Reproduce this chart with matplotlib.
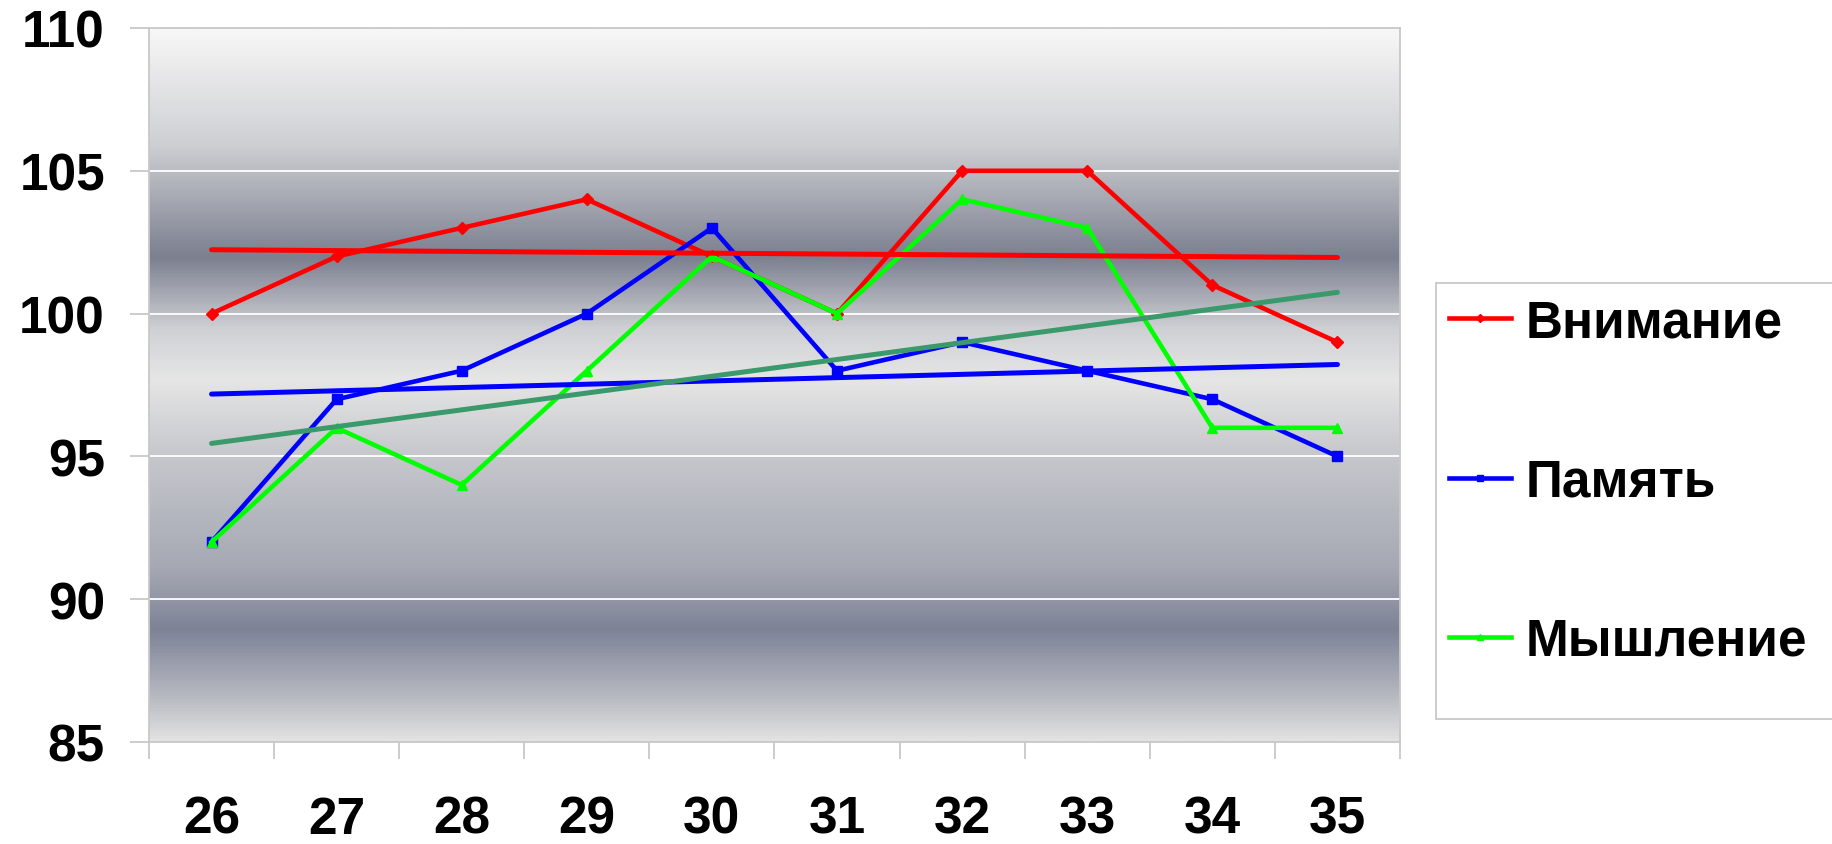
import numpy as np
import matplotlib
matplotlib.use('Agg')
import matplotlib.pyplot as plt
from matplotlib.colors import LinearSegmentedColormap
from matplotlib.patches import Rectangle

plt.rcParams['font.family'] = ['Liberation Sans', 'DejaVu Sans']
plt.rcParams['font.weight'] = 'bold'

# data
ages = ['26', '27', '28', '29', '30', '31', '32', '33', '34', '35']
vnimanie = [100, 102, 103, 104, 102, 100, 105, 105, 101, 99]
pamyat = [92, 97, 98, 100, 103, 98, 99, 98, 97, 95]
myshlenie = [92, 96, 94, 98, 102, 100, 104, 103, 96, 96]
series_names = ['Внимание', 'Память', 'Мышление']
y_ticks = [85, 90, 95, 100, 105, 110]

W, H = 1833, 845
fig = plt.figure(figsize=(W / 100, H / 100), dpi=100)
ax = fig.add_axes([149 / W, 1 - 743 / H, (1400 - 149) / W, (743 - 29) / H])

x = np.arange(len(ages))
ax.set_xlim(-0.5, len(ages) - 0.5)
ax.set_ylim(85, 110)

# background gradient (value -> colour)
stops = [(85, '#e2e2e2'), (86.5, '#b8bac2'), (88.9, '#7d8296'), (91, '#a5a8b3'),
         (95, '#c6c7cc'), (97.7, '#e6e6e6'), (99.5, '#cfd0d4'), (102.0, '#7b7f8f'),
         (106, '#cfd0d4'), (110, '#f7f7f7')]
cmap = LinearSegmentedColormap.from_list(
    'bg', [((v - 85) / 25, c) for v, c in stops])
grad = np.linspace(0, 1, 600).reshape(-1, 1)
ax.imshow(grad, cmap=cmap, origin='lower', aspect='auto',
          extent=[-0.5, len(ages) - 0.5, 85, 110], zorder=0, interpolation='bilinear')

for yv in y_ticks[1:-1]:
    ax.axhline(yv, color='white', lw=1.3, zorder=1)

colors = ['#ff0000', '#0000ff', '#00ff00']
trend_colors = ['#ff0000', '#0000ff', '#3a9a6c']
markers = ['D', 's', '^']
msizes = [6, 6.5, 7]
handles = []
for vals, c, m, ms, name in zip([vnimanie, pamyat, myshlenie], colors,
                                markers, msizes, series_names):
    h, = ax.plot(x, vals, color=c, lw=3.3, marker=m, markersize=ms, zorder=3, label=name)
    handles.append(h)
# linear trend lines
for vals, tc in zip([vnimanie, pamyat, myshlenie], trend_colors):
    k, b = np.polyfit(x, vals, 1)
    ax.plot(x, k * x + b, color=tc, lw=3.6, zorder=4, solid_capstyle='round')

# axes styling
for s in ax.spines.values():
    s.set_color('#c8c8c8')
    s.set_linewidth(1.3)
ax.set_yticks(y_ticks)
ax.tick_params(axis='y', length=13.7, width=1.3, color='#c8c8c8', pad=18, labelsize=37)
ax.set_xticks(np.arange(-0.5, len(ages)), [''] * (len(ages) + 1))
ax.set_xticks(x, ages, minor=True)
ax.tick_params(axis='x', which='major', length=12.5, width=1.3, color='#c8c8c8')
ax.tick_params(axis='x', which='minor', length=0, pad=38, labelsize=37)
for t in ax.get_yticklabels() + ax.get_xticklabels(minor=True):
    t.set_fontweight('bold')

# legend box
fig.patches.append(Rectangle((1436 / W, 1 - 720 / H), (W - 1436 + 5) / W, (720 - 284) / H,
                             transform=fig.transFigure, facecolor='white',
                             edgecolor='#c8c8c8', lw=1.3, zorder=0))
leg = fig.legend(handles=handles, loc='upper left', bbox_to_anchor=(1449 / W, 1 - 299 / H),
                 frameon=False, fontsize=37, handlelength=1.2, handletextpad=0.3,
                 labelspacing=2.15, markerscale=0.7, borderpad=0, borderaxespad=0)
for t in leg.get_texts():
    t.set_fontweight('bold')

fig.savefig('out.png', dpi=100, facecolor='white')
